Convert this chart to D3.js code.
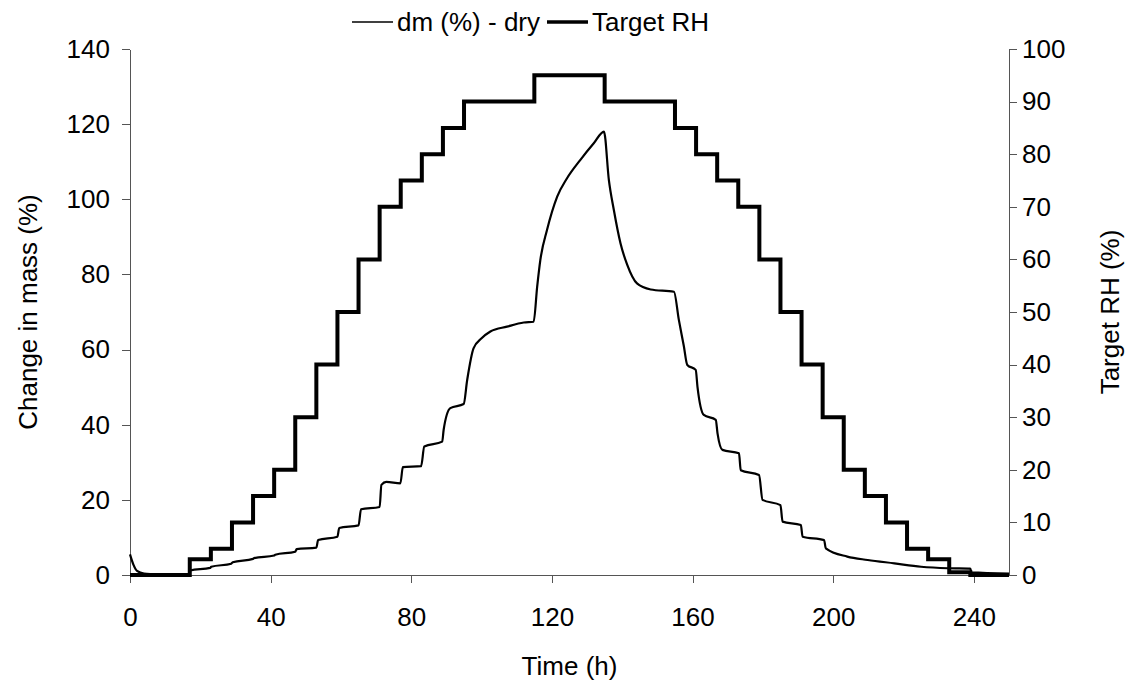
<!DOCTYPE html>
<html>
<head>
<meta charset="utf-8">
<script src="https://cdn.jsdelivr.net/npm/d3@7"></script>
<style>
  body { margin: 0; background: #fff; }
  text { font-family: "Liberation Sans", Arial, sans-serif; fill: #000; }
  .axis path, .axis line { stroke: #555; shape-rendering: crispEdges; }
</style>
</head>
<body>
<div id="chart"></div>
<script>
// Target RH steps: time (h) where each level starts, and the level (%)
var rhTimes  = [0, 17, 23, 29, 35, 41, 47, 53, 59, 65, 71, 77, 83, 89, 95, 115, 135, 155, 161, 167, 173, 179, 185, 191, 197, 203, 209, 215, 221, 227, 233, 239, 250]
var rhValues = [0, 3, 5, 10, 15, 20, 30, 40, 50, 60, 70, 75, 80, 85, 90, 95, 90, 85, 80, 75, 70, 60, 50, 40, 30, 20, 15, 10, 5, 3, 0.5, 0, 0]

// Change in mass dm (%) - dry
var dmTimes = [0, 1, 2, 4, 8, 16.9, 17.1, 22.8, 23.1, 28.8, 29.2, 35, 35.3, 41, 41.3, 47, 47.4, 53, 53.5,
  59, 59.5, 65, 65.7, 71, 71.5, 72.9, 76.9, 77.6, 82.8, 83.7, 88.8, 89.2, 91.1, 94.9, 95.9, 97.7,
  100, 102.5, 107.2, 112, 114.8, 115.8, 116.7, 118.6, 121.5, 124.3, 128.1, 131.9, 134.8, 136.2, 137.6,
  139.5, 141.4, 144.2, 148.1, 154.7, 156.1, 157.5, 158.5, 160.9, 161.4, 163.2, 166.6, 167.1, 168.5,
  173.2, 173.7, 178.9, 179.9, 185, 185.6, 190.8, 191.3, 197.4, 197.9, 204, 209.8, 217.4, 225, 232.6,
  239, 239.3, 250]
var dmValues = [5.5, 2.7, 1.1, 0.4, 0.2, 0.1, 1.2, 1.9, 2.2, 3.0, 3.4, 4.3, 4.5, 5.2, 5.4, 6.2, 6.9, 7.3, 9.3,
  10.2, 12.5, 13.2, 17.5, 18.1, 24.0, 24.8, 24.4, 28.7, 29.0, 34.2, 35.5, 38.6, 44.4, 45.5, 51.9, 60.3,
  63.0, 64.8, 66.1, 67.2, 67.4, 76.7, 83.8, 91.8, 100.7, 105.6, 110.5, 114.9, 118.0, 105.1, 97.2,
  88.3, 82.6, 77.6, 76.0, 75.4, 67.9, 61.0, 55.9, 54.6, 50.1, 42.6, 41.3, 37.7, 33.3,
  32.4, 27.9, 26.6, 20.0, 18.6, 14.2, 13.3, 10.2, 9.3, 7.1, 4.9, 4.0, 3.1, 2.2, 1.8,
  1.7, 0.7, 0.4]

var xTicks = [0, 40, 80, 120, 160, 200, 240]
var massTicks = [0, 20, 40, 60, 80, 100, 120, 140]
var rhTicks = [0, 10, 20, 30, 40, 50, 60, 70, 80, 90, 100]

var width = 1127, height = 681
var plotLeft = 130, plotRight = 1009, plotTop = 49, plotBottom = 575
var fontSize = '26px'

var svg = d3.select('#chart').append('svg')
  .attr('width', width)
  .attr('height', height)

var x = d3.scaleLinear().domain([0, 250]).range([plotLeft, plotRight])
var yMass = d3.scaleLinear().domain([0, 140]).range([plotBottom, plotTop])
var yRH = d3.scaleLinear().domain([0, 100]).range([plotBottom, plotTop])

svg.append('g')
  .attr('class', 'axis')
  .attr('transform', 'translate(0,' + plotBottom + ')')
  .call(d3.axisBottom(x).tickValues(xTicks).tickSize(8).tickSizeOuter(0))
  .selectAll('text').style('font-size', fontSize).attr('y', 33)

svg.append('g')
  .attr('class', 'axis')
  .attr('transform', 'translate(' + plotLeft + ',0)')
  .call(d3.axisLeft(yMass).tickValues(massTicks).tickSize(8).tickSizeOuter(0))
  .selectAll('text').style('font-size', fontSize).attr('x', -20)

svg.append('g')
  .attr('class', 'axis')
  .attr('transform', 'translate(' + plotRight + ',0)')
  .call(d3.axisRight(yRH).tickValues(rhTicks).tickSize(8).tickSizeOuter(0))
  .selectAll('text').style('font-size', fontSize).attr('x', 13)

var rhData = rhTimes.map(function(t, i) { return [t, rhValues[i]] })
var dmData = dmTimes.map(function(t, i) { return [t, dmValues[i]] })

svg.append('path')
  .datum(rhData)
  .attr('fill', 'none')
  .attr('stroke', '#000')
  .attr('stroke-width', 4)
  .attr('d', d3.line()
    .x(function(d) { return x(d[0]) })
    .y(function(d) { return yRH(d[1]) })
    .curve(d3.curveStepAfter))

svg.append('path')
  .datum(dmData)
  .attr('fill', 'none')
  .attr('stroke', '#000')
  .attr('stroke-width', 2.2)
  .attr('stroke-linejoin', 'round')
  .attr('d', d3.line()
    .x(function(d) { return x(d[0]) })
    .y(function(d) { return yMass(d[1]) })
    .curve(d3.curveMonotoneX))

// axis titles
svg.append('text')
  .attr('transform', 'translate(37,' + ((plotTop + plotBottom) / 2) + ') rotate(-90)')
  .attr('text-anchor', 'middle')
  .style('font-size', fontSize)
  .text('Change in mass (%)')

svg.append('text')
  .attr('transform', 'translate(1119,' + ((plotTop + plotBottom) / 2) + ') rotate(-90)')
  .attr('text-anchor', 'middle')
  .style('font-size', fontSize)
  .text('Target RH (%)')

svg.append('text')
  .attr('x', (plotLeft + plotRight) / 2)
  .attr('y', 675)
  .attr('text-anchor', 'middle')
  .style('font-size', fontSize)
  .text('Time (h)')

// legend
var legend = svg.append('g')
legend.append('line')
  .attr('x1', 352).attr('x2', 393).attr('y1', 22).attr('y2', 22)
  .attr('stroke', '#000').attr('stroke-width', 1.5)
legend.append('text')
  .attr('x', 397).attr('y', 31)
  .style('font-size', fontSize)
  .text('dm (%) - dry')
legend.append('line')
  .attr('x1', 547).attr('x2', 588).attr('y1', 22).attr('y2', 22)
  .attr('stroke', '#000').attr('stroke-width', 3.5)
legend.append('text')
  .attr('x', 592).attr('y', 31)
  .style('font-size', fontSize)
  .text('Target RH')
</script>
</body>
</html>
